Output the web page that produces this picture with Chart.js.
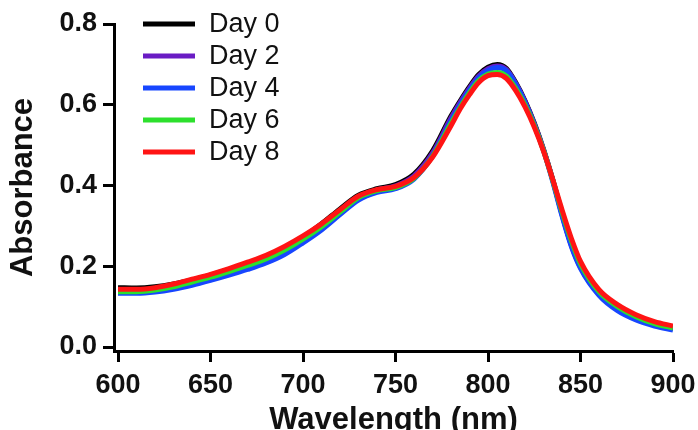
<!DOCTYPE html>
<html><head><meta charset="utf-8">
<script src="https://cdn.jsdelivr.net/npm/chart.js@4"></script>
<style>html,body{margin:0;padding:0;background:#fff}#wrap{width:698px;height:430px;position:relative}</style>
</head><body><div id="wrap"><canvas id="c" width="698" height="430"></canvas></div>
<script>
const wavelengths = [600,610,620,630,640,650,660,670,680,690,700,710,720,730,740,750,760,770,780,785,790,795,800,805,810,815,820,825,830,835,840,845,850,860,870,880,890,900];
const day0 = [.147,.146,.149,.156,.166,.178,.192,.207,.223,.245,.272,.305,.342,.376,.392,.402,.428,.485,.572,.610,.645,.675,.693,.700,.690,.655,.610,.555,.490,.415,.330,.255,.200,.132,.097,.074,.059,.048];
const day2 = [.139,.139,.142,.149,.160,.172,.186,.200,.216,.238,.266,.299,.337,.372,.389,.399,.424,.480,.567,.606,.641,.671,.689,.696,.687,.653,.608,.553,.489,.413,.328,.252,.197,.130,.094,.071,.056,.045];
const day4 = [.133,.133,.136,.143,.153,.165,.178,.192,.208,.229,.258,.290,.328,.364,.383,.392,.416,.473,.560,.600,.636,.667,.685,.692,.684,.651,.606,.551,.487,.410,.325,.250,.195,.128,.090,.067,.052,.042];
const day6 = [.137,.137,.141,.149,.161,.173,.187,.202,.218,.240,.267,.298,.334,.370,.387,.395,.418,.472,.554,.594,.630,.660,.676,.680,.671,.640,.600,.549,.487,.413,.335,.264,.206,.137,.100,.075,.058,.047];
const day8 = [.143,.143,.147,.156,.168,.180,.194,.210,.227,.249,.275,.305,.340,.374,.390,.398,.420,.470,.548,.590,.625,.655,.672,.675,.665,.635,.595,.545,.485,.415,.340,.270,.212,.142,.105,.080,.063,.052];
const seriesNames = ['Day 0','Day 2','Day 4','Day 6','Day 8'];
const seriesColors = ['#000000','#6a1cc4','#1746ff','#2de02d','#ff1414'];
const xTicks = [600,650,700,750,800,850,900];
const yTicks = [0.0,0.2,0.4,0.6,0.8];

const allSeries = [day0, day2, day4, day6, day8];
const FONT = '"Liberation Sans", Arial, Helvetica, sans-serif';

const datasets = allSeries.map((vals, i) => ({
  label: seriesNames[i],
  data: wavelengths.map((w, j) => ({x: w, y: vals[j]})),
  borderColor: seriesColors[i],
  backgroundColor: seriesColors[i],
  borderWidth: 5,
  pointRadius: 0,
  fill: false,
  cubicInterpolationMode: 'monotone',
  order: allSeries.length - 1 - i
}));

const legendPlugin = {
  id: 'insideLegend',
  afterDraw(chart) {
    const ctx = chart.ctx;
    ctx.save();
    const ys = [24, 56, 88, 120, 152];
    seriesNames.forEach((name, i) => {
      ctx.strokeStyle = seriesColors[i];
      ctx.lineWidth = 5;
      ctx.beginPath();
      ctx.moveTo(143, ys[i]);
      ctx.lineTo(195, ys[i]);
      ctx.stroke();
      ctx.fillStyle = '#111';
      ctx.font = '27px ' + FONT;
      ctx.textBaseline = 'middle';
      ctx.textAlign = 'left';
      ctx.fillText(name, 209, ys[i] + 1);
    });
    ctx.restore();
  }
};

new Chart(document.getElementById('c'), {
  type: 'line',
  data: { datasets },
  plugins: [legendPlugin],
  options: {
    responsive: false,
    animation: false,
    devicePixelRatio: 1,
    layout: { padding: { top: 24, right: 25, left: 0, bottom: 0 } },
    plugins: { legend: { display: false }, tooltip: { enabled: false } },
    scales: {
      x: {
        type: 'linear',
        min: 600 - 4 / 1.85,
        max: 900,
        afterBuildTicks: s => { s.ticks = xTicks.map(v => ({ value: v })); },
        afterFit: s => { s.height = 79; s.paddingLeft = 0; s.paddingRight = 0; },
        grid: { display: true, drawOnChartArea: false, drawTicks: true, tickLength: 11, tickWidth: 3, tickColor: '#000' },
        border: { display: true, width: 3, color: '#000' },
        ticks: { font: { family: FONT, size: 27, weight: 'bold' }, color: '#111', padding: 7, maxRotation: 0, autoSkip: false, callback: v => String(v) },
        title: { display: true, text: 'Wavelength (nm)', font: { family: FONT, size: 31, weight: 'bold' }, color: '#111', padding: { top: 0, bottom: -9 } }
      },
      y: {
        type: 'linear',
        min: -0.0099,
        max: 0.8,
        afterBuildTicks: s => { s.ticks = yTicks.map(v => ({ value: v })); },
        afterFit: s => { s.width = 114; s.paddingTop = 0; s.paddingBottom = 0; },
        grid: { display: true, drawOnChartArea: false, drawTicks: true, tickLength: 11, tickWidth: 3, tickColor: '#000' },
        border: { display: true, width: 3, color: '#000' },
        ticks: { font: { family: FONT, size: 27, weight: 'bold' }, color: '#111', padding: 6, autoSkip: false, callback: v => Number(v).toFixed(1) },
        title: { display: true, text: 'Absorbance', font: { family: FONT, size: 31, weight: 'bold' }, color: '#111', padding: { top: 5, bottom: 0 } }
      }
    }
  }
});
</script></body></html>
